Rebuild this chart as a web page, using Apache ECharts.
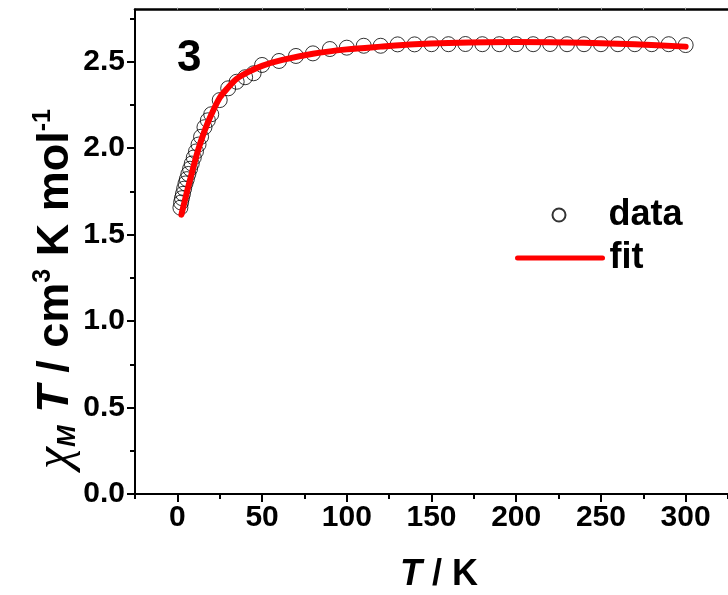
<!DOCTYPE html>
<html>
<head>
<meta charset="utf-8">
<script src="https://cdn.jsdelivr.net/npm/echarts@6/dist/echarts.min.js"></script>
<style>
  html, body { margin: 0; padding: 0; background: #fff; }
  #chart { width: 728px; height: 595px; }
</style>
</head>
<body>
<div id="chart"></div>
<script>
// Measured chi_M*T versus temperature (complex 3)
const dataT = [1.8, 2.2, 2.7, 3.3, 4.0, 4.8, 5.6, 6.5, 7.5, 8.5, 9.7, 11, 12.5, 14, 16, 18, 20, 25, 30, 35, 40, 45, 50, 60, 70, 80, 90, 100, 110, 120, 130, 140, 150, 160, 170, 180, 190, 200, 210, 220, 230, 240, 250, 260, 270, 280, 290, 300];
const dataChiT = [1.655, 1.685, 1.71, 1.735, 1.765, 1.795, 1.82, 1.85, 1.88, 1.91, 1.945, 1.98, 2.02, 2.065, 2.12, 2.16, 2.195, 2.277, 2.345, 2.383, 2.409, 2.432, 2.48, 2.503, 2.532, 2.547, 2.572, 2.58, 2.591, 2.591, 2.599, 2.599, 2.60, 2.60, 2.601, 2.60, 2.60, 2.60, 2.60, 2.601, 2.60, 2.60, 2.60, 2.60, 2.60, 2.60, 2.60, 2.595];

// Model fit curve
const fitT = [2.4, 4, 6, 8, 10, 12, 15, 19, 25, 30, 35, 42, 50, 62, 80, 100, 120, 140, 160, 200, 240, 270, 300];
const fitChiT = [1.615, 1.68, 1.76, 1.835, 1.91, 1.98, 2.07, 2.17, 2.29, 2.35, 2.40, 2.44, 2.475, 2.509, 2.545, 2.57, 2.586, 2.60, 2.607, 2.612, 2.608, 2.60, 2.586];

// Axis ticks
const xMajorTicks = [0, 50, 100, 150, 200, 250, 300];
const xMinorTicks = [-25, 25, 75, 125, 175, 225, 275, 325];
const xTopTicks = [0, 25, 50, 75, 100, 125, 150, 175, 200, 225, 250, 275, 300];
const yMajorTicks = [0, 0.5, 1.0, 1.5, 2.0, 2.5];
const yMinorTicks = [0.25, 0.75, 1.25, 1.75, 2.25, 2.75];

const FONT = "'Liberation Sans', Arial, sans-serif";
const pairs = (xs, ys) => xs.map((x, i) => [x, ys[i]]);

const chart = echarts.init(document.getElementById('chart'), null, { renderer: 'canvas' });

const labelStyle = { color: '#000', fontFamily: FONT, fontWeight: 'bold', fontSize: 30 };
const legendText = { color: '#000', fontFamily: FONT, fontWeight: 'bold', fontSize: 36 };

chart.setOption({
  animation: false,
  backgroundColor: '#fff',
  grid: { left: 135, top: 9.6, width: 596.6, bottom: 101, containLabel: false },
  xAxis: [
    {
      type: 'value', min: -25, max: 325, position: 'bottom',
      axisLine: { show: true, onZero: false, lineStyle: { color: '#000', width: 2 } },
      axisTick: { show: true, length: 8, customValues: xMajorTicks, lineStyle: { color: '#000', width: 2 } },
      axisLabel: { show: true, customValues: xMajorTicks, margin: 9, ...labelStyle },
      splitLine: { show: false }
    },
    {
      type: 'value', min: -25, max: 325, position: 'bottom',
      axisLine: { show: false, onZero: false },
      axisTick: { show: true, length: 5, customValues: xMinorTicks, lineStyle: { color: '#000', width: 2 } },
      axisLabel: { show: false },
      splitLine: { show: false }
    },
    {
      type: 'value', min: -25, max: 325, position: 'top',
      axisLine: { show: true, onZero: false, lineStyle: { color: '#000', width: 2.5 } },
      axisTick: { show: true, length: 2, customValues: xTopTicks, lineStyle: { color: '#aaa', width: 1 } },
      axisLabel: { show: false },
      splitLine: { show: false }
    }
  ],
  yAxis: [
    {
      type: 'value', min: 0, max: 2.8, position: 'left',
      axisLine: { show: true, onZero: false, lineStyle: { color: '#000', width: 2 } },
      axisTick: { show: true, length: 8, customValues: yMajorTicks, lineStyle: { color: '#000', width: 2 } },
      axisLabel: { show: true, customValues: yMajorTicks, margin: 10, formatter: v => v.toFixed(1), ...labelStyle },
      splitLine: { show: false }
    },
    {
      type: 'value', min: 0, max: 2.8, position: 'left',
      axisLine: { show: false, onZero: false },
      axisTick: { show: true, length: 5, customValues: yMinorTicks, lineStyle: { color: '#000', width: 2 } },
      axisLabel: { show: false },
      splitLine: { show: false }
    }
  ],
  legend: [
    {
      data: ['data'], left: 551.5, top: 197, padding: 0,
      itemWidth: 13, itemHeight: 13,
      textStyle: { ...legendText, padding: [0, 0, 0, 38] }
    },
    {
      data: ['fit'], left: 515, top: 240, padding: 0,
      itemWidth: 85, itemHeight: 14,
      itemStyle: { color: 'rgba(0,0,0,0)', borderWidth: 0 },
      lineStyle: { width: 5, cap: 'round' },
      textStyle: { ...legendText, padding: [0, 0, 0, 2] }
    }
  ],
  series: [
    {
      name: 'data', type: 'scatter', xAxisIndex: 0, yAxisIndex: 0,
      symbol: 'circle', symbolSize: 15,
      itemStyle: { color: 'rgba(0,0,0,0)', borderColor: '#000', borderWidth: 1 },
      data: pairs(dataT, dataChiT), z: 2
    },
    {
      name: 'fit', type: 'line', xAxisIndex: 0, yAxisIndex: 0,
      symbol: 'none', showSymbol: false, smooth: 0.3,
      lineStyle: { color: '#ff0000', width: 6, cap: 'round', join: 'round' },
      itemStyle: { color: '#ff0000' },
      data: pairs(fitT, fitChiT), z: 3
    }
  ],
  graphic: [
    {
      type: 'text', x: 177, y: 59, z: 10,
      style: { text: '3', fill: '#000', font: "bold 44px 'Liberation Sans', Arial, sans-serif", align: 'left', verticalAlign: 'middle' }
    },
    {
      type: 'text', x: 439, y: 575, z: 10,
      style: {
        text: '{it|T}{rm| / K}', align: 'center', verticalAlign: 'middle', fill: '#000',
        rich: {
          it: { fontFamily: FONT, fontStyle: 'italic', fontWeight: 'bold', fontSize: 36, fill: '#000' },
          rm: { fontFamily: FONT, fontWeight: 'bold', fontSize: 36, fill: '#000' }
        }
      }
    },
    {
      type: 'text', x: 56, y: 289, rotation: Math.PI / 2, z: 10,
      style: {
        text: '{chi|χ}{sub|M}{it| T}{rm| / cm}{sup|3}{rm| K mol}{sup|-1}',
        align: 'center', verticalAlign: 'middle', fill: '#000',
        rich: {
          chi: { fontFamily: "'Liberation Serif', serif", fontStyle: 'italic', fontSize: 50, fill: '#000' },
          sub: { fontFamily: FONT, fontStyle: 'italic', fontWeight: 'bold', fontSize: 26, fill: '#000', verticalAlign: 'bottom' },
          it: { fontFamily: FONT, fontStyle: 'italic', fontWeight: 'bold', fontSize: 45, fill: '#000' },
          rm: { fontFamily: FONT, fontWeight: 'bold', fontSize: 45, fill: '#000' },
          sup: { fontFamily: FONT, fontWeight: 'bold', fontSize: 25, fill: '#000', verticalAlign: 'top', lineHeight: 18 }
        }
      }
    }
  ]
});
</script>
</body>
</html>
